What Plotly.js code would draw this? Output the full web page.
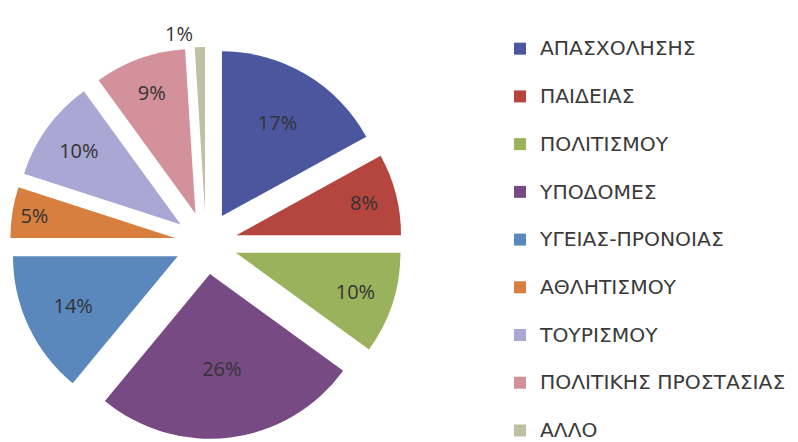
<!DOCTYPE html>
<html>
<head>
<meta charset="utf-8">
<script src="https://cdn.plot.ly/plotly-3.0.1.min.js"></script>
<style>html,body{margin:0;padding:0;background:#fff;overflow:hidden;}#wrap{width:798px;height:442px;overflow:hidden;}#chart{width:798px;height:480px;}</style>
</head>
<body>
<div id="wrap"><div id="chart"></div></div>
<script>
var categories = ["ΑΠΑΣΧΟΛΗΣΗΣ", "ΠΑΙΔΕΙΑΣ", "ΠΟΛΙΤΙΣΜΟΥ", "ΥΠΟΔΟΜΕΣ", "ΥΓΕΙΑΣ-ΠΡΟΝΟΙΑΣ", "ΑΘΛΗΤΙΣΜΟΥ", "ΤΟΥΡΙΣΜΟΥ", "ΠΟΛΙΤΙΚΗΣ ΠΡΟΣΤΑΣΙΑΣ", "ΑΛΛΟ"];
var values = [17, 8, 10, 26, 14, 5, 10, 9, 1];
var colors = ["#4b569f", "#b4453f", "#9bb25c", "#784a84", "#5a88bd", "#d77f3f", "#a9a7d3", "#d3919b", "#bfc0a4"];

var H = 480;
var legendLabels = categories.map(function (c) {
  return '<span style="font-size:20.3px">' + c + '</span><br> ';
});
var textPos = values.map(function (v) { return v < 3 ? "outside" : "inside"; });

var trace = {
  type: "pie",
  labels: legendLabels,
  values: values,
  sort: false,
  direction: "clockwise",
  rotation: 0,
  pull: 0.19,
  marker: { colors: colors, line: { width: 0 } },
  textinfo: "percent",
  textposition: textPos,
  insidetextorientation: "horizontal",
  textfont: { family: "Open Sans", size: 20, color: "#333333" },
  outsidetextfont: { family: "Open Sans", size: 20, color: "#333333" },
  domain: { x: [10 / 798, 402 / 798], y: [(H - 439) / H, (H - 47) / H] },
  hoverinfo: "label+percent"
};

var layout = {
  width: 798,
  height: H,
  margin: { l: 0, r: 0, t: 0, b: 0 },
  paper_bgcolor: "#ffffff",
  showlegend: true,
  legend: {
    x: 500 / 798, xanchor: "left",
    y: 1 - 31 / H, yanchor: "top",
    valign: "top",
    font: { family: "DejaVu Sans", size: 17.2, color: "#3a3a3a" },
    bgcolor: "rgba(0,0,0,0)"
  }
};

Plotly.newPlot("chart", [trace], layout, { displayModeBar: false, staticPlot: true });
</script>
</body>
</html>
